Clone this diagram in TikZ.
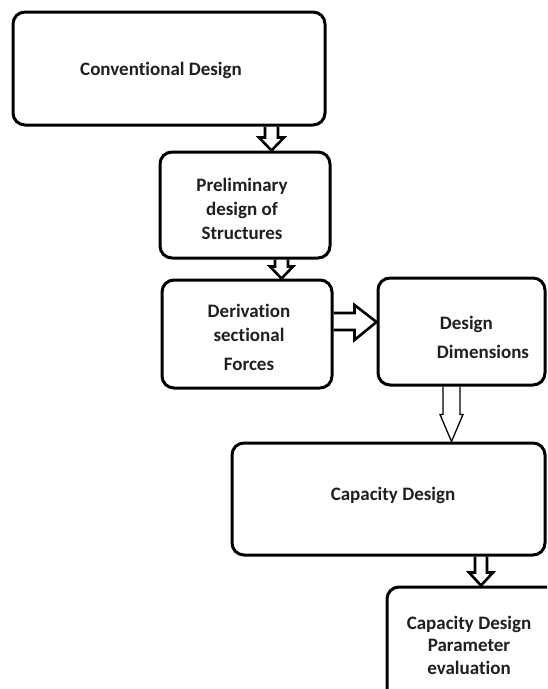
\documentclass[tikz,border=0pt]{standalone}
\usepackage{fontspec}
\setmainfont{Carlito}[Ligatures=NoCommon]
\usetikzlibrary{calc}
\tikzset{
  box/.style={draw=black, line width=3pt, rounded corners=12pt},
  lbl/.style={font=\bfseries\fontsize{19}{24}\selectfont, text=black!88, inner sep=0pt},
  blk/.style={draw=black, line width=2.6pt, line join=miter, line cap=butt},
  thinblk/.style={draw=black, line width=1.3pt, line join=miter, line cap=butt}
}
% vertical block arrow: #1 style, #2 x centre, #3 from node, #4 to node, #5 shaft half, #6 head half, #7 head length
\newcommand{\blkdown}[7]{%
  \draw[#1] let \p1=(#3.south), \p2=(#4.north) in
    (#2pt-#5pt,\y1) -- (#2pt-#5pt,\y2+#7pt) -- (#2pt-#6pt,\y2+#7pt) -- (#2pt,\y2)
    -- (#2pt+#6pt,\y2+#7pt) -- (#2pt+#5pt,\y2+#7pt) -- (#2pt+#5pt,\y1);}
\begin{document}
\begin{tikzpicture}[x=1pt,y=-1pt]
\useasboundingbox (0,0) rectangle (547,689);
\clip (0,0) rectangle (547,689);
% boxes
\node[box, minimum width=312pt, minimum height=113pt, inner sep=0] (c1) at (169,68.5) {};
\node[box, minimum width=170pt, minimum height=106pt, inner sep=0] (c2) at (245,205) {};
\node[box, minimum width=170pt, minimum height=108pt, inner sep=0] (c3) at (247,334) {};
\node[box, minimum width=167pt, minimum height=107pt, inner sep=0] (c4) at (461.5,331.5) {};
\node[box, minimum width=313pt, minimum height=112pt, inner sep=0] (c5) at (388.5,499) {};
\node[box, minimum width=175pt, minimum height=115pt, inner sep=0] (c6) at (474.5,644.5) {};
% texts
\node[lbl] (t1) at (161,70) {Conventional Design};
\node[lbl, align=center] (t2) at (242,209) {Preliminary\\design of\\Structures};
\node[lbl, align=center] (t3) at (249,337) {Derivation\\sectional\\[5pt]Forces};
\node[lbl, align=left, font=\bfseries\fontsize{19}{29}\selectfont] (t4) at (483,337) {\hspace{3pt}Design\\Dimensions};
\node[lbl] (t5) at (393,495) {Capacity Design};
\node[lbl, align=center, font=\bfseries\fontsize{19}{22.5}\selectfont] (t6) at (469,645) {Capacity Design\\Parameter\\evaluation};
% arrows
\blkdown{blk}{271.5}{c1}{c2}{6.5}{12.5}{13}
\blkdown{blk}{281.5}{c2}{c3}{6.5}{11.5}{12}
\blkdown{thinblk}{451.5}{c4}{c5}{8.5}{11.5}{27}
\blkdown{blk}{481}{c5}{c6}{6}{12}{13}
\draw[blk] let \p1=(c3.east), \p2=(c4.west) in
  (\x1,-313pt) -- (\x2-22pt,-313pt) -- (\x2-22pt,-305pt) -- (\x2,-322pt)
  -- (\x2-22pt,-340pt) -- (\x2-22pt,-330pt) -- (\x1,-330pt);
\end{tikzpicture}
\end{document}
